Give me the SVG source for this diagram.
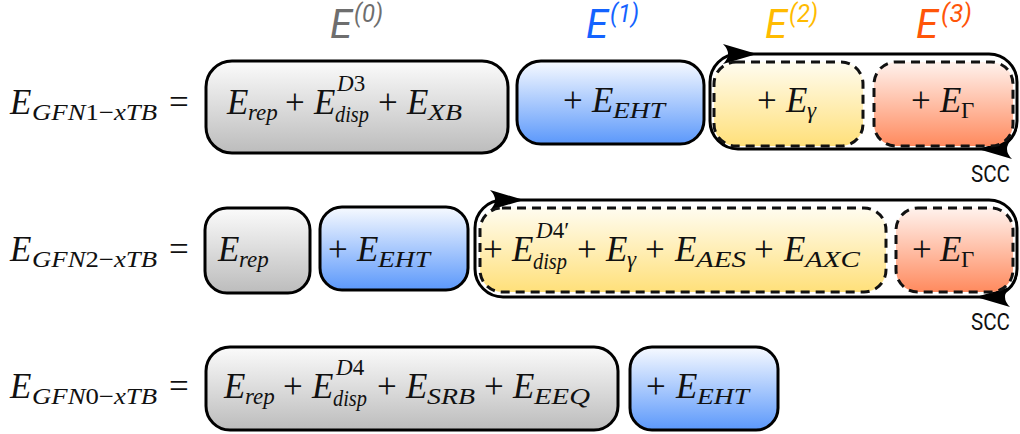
<svg xmlns="http://www.w3.org/2000/svg" width="1020" height="434" viewBox="0 0 1020 434">
<style>
.box{stroke:#000;stroke-width:3}
.dash{stroke:#111;stroke-width:3;stroke-dasharray:9 6}
.loop{fill:none;stroke:#000;stroke-width:3}
.mi{font-family:"Liberation Serif",serif;font-style:italic;font-size:35px;fill:#111}
.mr{font-family:"Liberation Serif",serif;font-size:35px;fill:#111}
.si{font-family:"Liberation Serif",serif;font-style:italic;font-size:23px;fill:#111}
.sr{font-family:"Liberation Serif",serif;font-style:normal;font-size:23px;fill:#111}
.hd{font-family:Roboto,"Liberation Sans",sans-serif;font-style:italic;font-size:41px}
.hs{font-family:Roboto,"Liberation Sans",sans-serif;font-style:italic;font-size:25px}
.scc{font-family:Roboto,"Liberation Sans",sans-serif;font-size:24px;fill:#111}
</style>
<defs>
<linearGradient id="gGray" x1="0" y1="0" x2="0" y2="1"><stop offset="0" stop-color="#fbfbfb"/><stop offset="1" stop-color="#bcbcbc"/></linearGradient>
<linearGradient id="gBlue" x1="0" y1="0" x2="0" y2="1"><stop offset="0" stop-color="#f7faff"/><stop offset="1" stop-color="#5b98fb"/></linearGradient>
<linearGradient id="gYel" x1="0" y1="0" x2="0" y2="1"><stop offset="0" stop-color="#fffcf0"/><stop offset="1" stop-color="#ffe07a"/></linearGradient>
<linearGradient id="gRed" x1="0" y1="0" x2="0" y2="1"><stop offset="0" stop-color="#fff2ed"/><stop offset="1" stop-color="#ff8a5e"/></linearGradient>
<path id="ah" d="M0,0 L-34,-10 Q-24,0 -34,10 Z" fill="#000"/>
</defs>

<g id="headers">
<text class="hd" x="330" y="38" fill="#6e6e6e" textLength="22" lengthAdjust="spacingAndGlyphs">E</text><text class="hs" x="354" y="22" fill="#6e6e6e" textLength="29" lengthAdjust="spacingAndGlyphs">(0)</text>
<text class="hd" x="586" y="38" fill="#1463ff" textLength="22" lengthAdjust="spacingAndGlyphs">E</text><text class="hs" x="610" y="22" fill="#1463ff" textLength="29" lengthAdjust="spacingAndGlyphs">(1)</text>
<text class="hd" x="765" y="38" fill="#ffbb00" textLength="22" lengthAdjust="spacingAndGlyphs">E</text><text class="hs" x="789" y="22" fill="#ffbb00" textLength="29" lengthAdjust="spacingAndGlyphs">(2)</text>
<text class="hd" x="916" y="38" fill="#ff5509" textLength="22" lengthAdjust="spacingAndGlyphs">E</text><text class="hs" x="941" y="22" fill="#ff5509" textLength="31" lengthAdjust="spacingAndGlyphs">(3)</text>
</g>

<g id="labels">
<text class="mi" x="10" y="114">E</text><text class="si" x="32" y="120" textLength="125" lengthAdjust="spacingAndGlyphs">GFN<tspan class="sr">1−</tspan>xTB</text><text class="mr" x="169" y="114">=</text>
<text class="mi" x="10" y="261">E</text><text class="si" x="32" y="267" textLength="125" lengthAdjust="spacingAndGlyphs">GFN<tspan class="sr">2−</tspan>xTB</text><text class="mr" x="169" y="261">=</text>
<text class="mi" x="10" y="398">E</text><text class="si" x="32" y="404" textLength="125" lengthAdjust="spacingAndGlyphs">GFN<tspan class="sr">0−</tspan>xTB</text><text class="mr" x="169" y="398">=</text>
</g>

<g id="connectors">
<rect class="loop" x="710" y="54" width="307" height="95" rx="28"/>
<use href="#ah" transform="translate(757,54)"/>
<use href="#ah" transform="translate(978,149) rotate(180)"/>
<rect class="loop" x="475" y="200" width="542" height="97" rx="28"/>
<use href="#ah" transform="translate(524,200)"/>
<use href="#ah" transform="translate(976,297) rotate(180)"/>
<text class="scc" x="971" y="182" textLength="39" lengthAdjust="spacingAndGlyphs">SCC</text>
<text class="scc" x="971" y="330" textLength="39" lengthAdjust="spacingAndGlyphs">SCC</text>
</g>

<g id="r1-e0">
<rect class="box" x="206" y="61" width="302" height="92" rx="26" fill="url(#gGray)"/>
<text class="mi" x="227" y="114">E</text><text class="si" x="248" y="120">rep</text>
<text class="mr" x="285" y="114">+</text>
<text class="mi" x="314" y="114">E</text><text class="si" x="337" y="91">D<tspan class="sr">3</tspan></text><text class="si" x="335" y="122" textLength="34" lengthAdjust="spacingAndGlyphs">disp</text>
<text class="mr" x="378" y="114">+</text>
<text class="mi" x="407" y="114">E</text><text class="si" x="428" y="120" textLength="34" lengthAdjust="spacingAndGlyphs">XB</text>
</g>
<g id="r1-e1">
<rect class="box" x="517" y="61" width="187" height="83" rx="24" fill="url(#gBlue)"/>
<text class="mr" x="563" y="112">+</text><text class="mi" x="592" y="112">E</text><text class="si" x="613" y="118" textLength="52" lengthAdjust="spacingAndGlyphs">EHT</text>
</g>
<g id="r1-e2">
<rect class="dash" x="714" y="62" width="149" height="84" rx="22" fill="url(#gYel)"/>
<text class="mr" x="757" y="112">+</text><text class="mi" x="786" y="112">E</text><text class="si" x="807" y="118">γ</text>
</g>
<g id="r1-e3">
<rect class="dash" x="874" y="62" width="139" height="84" rx="22" fill="url(#gRed)"/>
<text class="mr" x="911" y="112">+</text><text class="mi" x="940" y="112">E</text><text class="sr" x="961" y="118">Γ</text>
</g>

<g id="r2-e0">
<rect class="box" x="205" y="208" width="105" height="85" rx="22" fill="url(#gGray)"/>
<text class="mi" x="218" y="261">E</text><text class="si" x="239" y="267">rep</text>
</g>
<g id="r2-e1">
<rect class="box" x="320" y="207" width="148" height="83" rx="22" fill="url(#gBlue)"/>
<text class="mr" x="328" y="261">+</text><text class="mi" x="357" y="261">E</text><text class="si" x="378" y="267" textLength="52" lengthAdjust="spacingAndGlyphs">EHT</text>
</g>
<g id="r2-e2">
<rect class="dash" x="480" y="208" width="406" height="84" rx="22" fill="url(#gYel)"/>
<text class="mr" x="483" y="261">+</text>
<text class="mi" x="512" y="261">E</text><text class="si" x="536" y="238">D<tspan class="sr">4′</tspan></text><text class="si" x="533" y="269" textLength="34" lengthAdjust="spacingAndGlyphs">disp</text>
<text class="mr" x="577" y="261">+</text>
<text class="mi" x="606" y="261">E</text><text class="si" x="627" y="267">γ</text>
<text class="mr" x="645" y="261">+</text>
<text class="mi" x="675" y="261">E</text><text class="si" x="696" y="267" textLength="50" lengthAdjust="spacingAndGlyphs">AES</text>
<text class="mr" x="754" y="261">+</text>
<text class="mi" x="784" y="261">E</text><text class="si" x="805" y="267" textLength="55" lengthAdjust="spacingAndGlyphs">AXC</text>
</g>
<g id="r2-e3">
<rect class="dash" x="896" y="208" width="117" height="84" rx="22" fill="url(#gRed)"/>
<text class="mr" x="912" y="261">+</text><text class="mi" x="940" y="261">E</text><text class="sr" x="961" y="267">Γ</text>
</g>

<g id="r3-e0">
<rect class="box" x="206" y="347" width="412" height="83" rx="24" fill="url(#gGray)"/>
<text class="mi" x="224" y="398">E</text><text class="si" x="245" y="404">rep</text>
<text class="mr" x="283" y="398">+</text>
<text class="mi" x="312" y="398">E</text><text class="si" x="336" y="375">D<tspan class="sr">4</tspan></text><text class="si" x="333" y="406" textLength="34" lengthAdjust="spacingAndGlyphs">disp</text>
<text class="mr" x="377" y="398">+</text>
<text class="mi" x="406" y="398">E</text><text class="si" x="427" y="404" textLength="48" lengthAdjust="spacingAndGlyphs">SRB</text>
<text class="mr" x="484" y="398">+</text>
<text class="mi" x="513" y="398">E</text><text class="si" x="534" y="404" textLength="56" lengthAdjust="spacingAndGlyphs">EEQ</text>
</g>
<g id="r3-e1">
<rect class="box" x="630" y="347" width="148" height="83" rx="22" fill="url(#gBlue)"/>
<text class="mr" x="646" y="398">+</text><text class="mi" x="676" y="398">E</text><text class="si" x="697" y="404" textLength="52" lengthAdjust="spacingAndGlyphs">EHT</text>
</g>
</svg>
